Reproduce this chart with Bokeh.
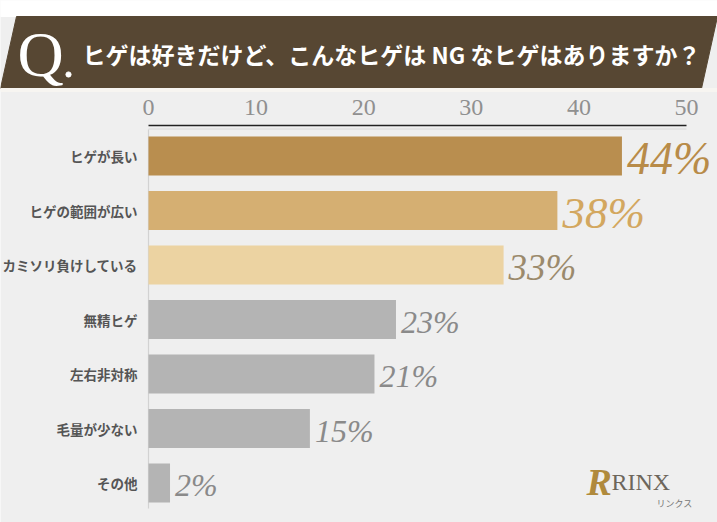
from bokeh.plotting import figure
from bokeh.models import Range1d, ColumnDataSource
from bokeh.core.properties import value
from bokeh.embed import file_html
from bokeh.resources import INLINE

# ---- data ----
categories = ["ヒゲが長い", "ヒゲの範囲が広い", "カミソリ負けしている", "無精ヒゲ", "左右非対称", "毛量が少ない", "その他"]
percents = [44, 38, 33, 23, 21, 15, 2]
tick_values = [0, 10, 20, 30, 40, 50]
title_text = "ヒゲは好きだけど、こんなヒゲは NG なヒゲはありますか？"

# ---- styles ----
bar_colors = ["#b98e4f", "#d5af72", "#ecd3a2", "#b4b4b4", "#b4b4b4", "#b4b4b4", "#b4b4b4"]
label_colors = ["#b88b48", "#d3a75f", "#9b8a6c", "#8a8a8a", "#8a8a8a", "#8a8a8a", "#8a8a8a"]
label_sizes = ["46px", "45px", "37px", "32px", "32px", "32px", "32px"]
BG = "#efefef"
W, H = 717, 522
X0, X50 = 148, 686          # pixel positions of 0 and 50
scale = (X50 - X0) / 50.0
Y_FIRST, PITCH, BAR_H = 155.5, 54.5, 39

p = figure(width=W, height=H, output_backend="svg", toolbar_location=None,
           x_range=Range1d(-X0 / scale, (W - X0) / scale), y_range=Range1d(H, 0),
           x_axis_location=None, y_axis_location=None, min_border=0)
p.extra_x_ranges = {"px": Range1d(0, W)}
p.background_fill_color = BG
p.border_fill_color = BG
p.outline_line_color = None
p.grid.visible = False

# top white strip and banner
p.quad(left=[0], right=[W], top=[0], bottom=[16], color="white", x_range_name="px")
p.patch(x=[16, W, W, 701, 0], y=[16, 16, 16, 88, 88], color="#574733", x_range_name="px")
p.quad(left=[0], right=[W], top=[88], bottom=[91], color="#f7f5f1", x_range_name="px")
p.text(x=[17], y=[54], text=["Q"], text_font=value("Liberation Serif"), text_font_size="64px",
       text_color="white", text_baseline="middle", x_range_name="px")
p.circle(x=[68], y=[74], radius=2.6, color="white", x_range_name="px")
p.text(x=[82], y=[53], text=[title_text], text_font=value("Noto Sans CJK JP"), text_font_size="23px",
       text_font_style="bold", text_color="white", text_baseline="middle", x_range_name="px")

ys = [Y_FIRST + i * PITCH for i in range(len(categories))]
src = ColumnDataSource(dict(y=ys, v=percents, cat=categories, bc=bar_colors, lc=label_colors,
                            ls=label_sizes, lab=[f"{v}%" for v in percents]))

# axis lines
p.segment(x0=[0], x1=[50], y0=[125], y1=[125], line_color="#222222", line_width=1.5)
p.segment(x0=[0], x1=[50], y0=[128.5], y1=[128.5], line_color="#d8d8d8", line_width=1)
p.segment(x0=[0], x1=[0], y0=[129], y1=[508], line_color="#d2d2d2", line_width=1.2)

# tick labels
p.text(x=tick_values, y=[107] * len(tick_values), text=[str(t) for t in tick_values],
       text_font=value("Liberation Serif"), text_font_size="24px", text_color="#909090",
       text_align="center", text_baseline="middle")

# bars
p.hbar(y="y", left=0, right="v", height=BAR_H, fill_color="bc", line_color=None, source=src)

# category labels
p.text(x=-11 / scale, y="y", text="cat", source=src, text_font=value("Noto Sans CJK JP"),
       text_font_size="13.5px", text_font_style="bold", text_color="#555555",
       text_align="right", text_baseline="middle")

# value labels
p.text(x="v", y="y", text="lab", source=src, x_offset=5, y_offset=2,
       text_font=value("Liberation Serif"), text_font_style="italic", text_font_size="ls",
       text_color="lc", text_align="left", text_baseline="middle")

# logo
p.text(x=[586], y=[481], text=["R"], text_font=value("Liberation Serif"), text_font_style="bold italic",
       text_font_size="38px", text_color="#b08a3c", text_baseline="middle", x_range_name="px")
p.text(x=[611], y=[481], text=["RINX"], text_font=value("Liberation Serif"),
       text_font_size="24px", text_color="#6d665b", text_baseline="middle", x_range_name="px")
p.text(x=[656], y=[503], text=["リンクス"], text_font=value("Noto Sans CJK JP"),
       text_font_size="9px", text_color="#777777", text_baseline="middle", x_range_name="px")

open("out.html", "w").write(file_html(p, INLINE))
